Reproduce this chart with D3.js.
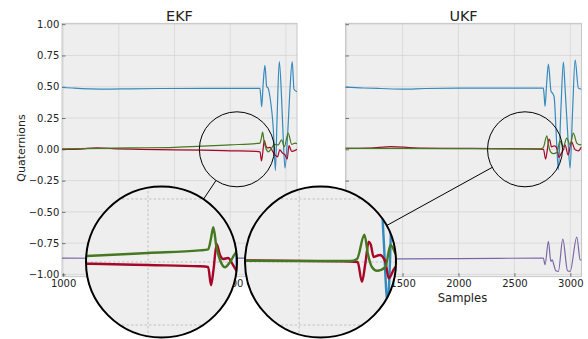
<!DOCTYPE html>
<html>
<head>
<meta charset="utf-8">
<script src="https://cdn.jsdelivr.net/npm/d3@7"></script>
<style>
  body { margin: 0; background: #fff; }
  svg text { font-family: "DejaVu Sans", sans-serif; fill: #222; }
</style>
</head>
<body>
<svg id="chart" width="588" height="339"></svg>
<script>
// values, [sample, quaternion value]
const sampleTicks = [1000, 1500, 2000, 2500, 3000];
const quatTicks = [-1, -0.75, -0.5, -0.25, 0, 0.25, 0.5, 0.75, 1];
const panelTitles = ["EKF", "UKF"];
const seriesColors = ["#348ABD", "#A60628", "#7A68A6", "#467821"]; // q0..q3

const ekfQ0 = [[990,0.494],[1100,0.489],[1250,0.483],[1400,0.481],[1600,0.483],[1900,0.486],[2300,0.487],[2767,0.487],[2775,0.42],[2783,0.34],[2796,0.52],[2812,0.67],[2828,0.50],[2840,0.49],[2857,0.42],[2888,0.15],[2906,-0.17],[2922,0.28],[2941,0.70],[2962,0.40],[2975,0.12],[2992,-0.15],[3015,0.10],[3035,0.45],[3057,0.70],[3073,0.48],[3100,0.46]];
const ekfQ1 = [[990,0.0],[1150,0.002],[1300,0.012],[1450,0.006],[1700,0.0],[2000,-0.004],[2250,-0.007],[2500,-0.012],[2732,-0.017],[2768,-0.02],[2781,-0.092],[2792,-0.03],[2806,0.072],[2820,0.03],[2835,0.012],[2857,0.016],[2879,-0.012],[2902,-0.045],[2925,-0.06],[2945,-0.004],[2970,-0.03],[2992,-0.045],[3012,-0.078],[3028,0.03],[3052,-0.017],[3082,-0.01],[3100,0.0]];
const ekfQ2 = [[990,-0.869],[1500,-0.871],[2000,-0.870],[2767,-0.869],[2783,-0.92],[2812,-0.735],[2828,-0.895],[2840,-0.885],[2880,-0.97],[2902,-0.975],[2941,-0.715],[2970,-0.97],[2992,-0.975],[3057,-0.70],[3073,-0.88],[3100,-0.885]];
const ekfQ3 = [[990,0.003],[1300,0.007],[1600,0.011],[2000,0.016],[2250,0.025],[2500,0.036],[2730,0.046],[2768,0.05],[2780,0.09],[2791,0.138],[2805,0.06],[2821,0.008],[2843,-0.021],[2866,0.0],[2897,0.04],[2932,0.036],[2962,0.076],[2986,0.02],[3021,0.13],[3052,0.04],[3082,0.05],[3100,0.045]];

const ukfQ0 = [[990,0.497],[1150,0.490],[1300,0.486],[1500,0.481],[1700,0.486],[2000,0.489],[2400,0.489],[2759,0.489],[2766,0.43],[2774,0.342],[2788,0.52],[2804,0.68],[2828,0.462],[2840,0.449],[2855,0.42],[2875,0.10],[2893,-0.164],[2915,0.30],[2938,0.696],[2953,0.489],[2975,0.15],[2998,-0.15],[3020,0.30],[3043,0.715],[3072,0.489],[3100,0.48]];
const ukfQ1 = [[990,0.008],[1200,0.01],[1400,0.022],[1600,0.012],[1900,0.008],[2300,0.006],[2727,0.002],[2760,0.0],[2779,-0.079],[2795,0.0],[2809,0.081],[2818,0.07],[2831,0.02],[2859,0.028],[2883,0.001],[2898,-0.065],[2920,-0.03],[2938,-0.004],[2953,0.036],[2980,-0.045],[3010,0.06],[3043,-0.004],[3072,-0.012],[3100,0.02]];
const ukfQ2 = [[990,-0.872],[1500,-0.876],[2000,-0.874],[2759,-0.869],[2774,-0.922],[2804,-0.736],[2826,-0.896],[2838,-0.883],[2855,-0.93],[2870,-0.97],[2893,-0.976],[2933,-0.717],[2975,-0.97],[2998,-0.976],[3058,-0.701],[3088,-0.883],[3100,-0.885]];
const ukfQ3 = [[990,0.008],[1500,0.008],[2000,0.006],[2500,0.004],[2727,0.004],[2757,0.012],[2790,0.108],[2806,0.03],[2824,-0.021],[2846,-0.035],[2883,-0.021],[2906,0.068],[2938,0.022],[2968,0.09],[2998,0.036],[3027,0.13],[3058,0.05],[3088,0.036],[3100,0.04]];

// zoom spots [sample, value]
const zoomCenters = [[2560, 0], [2595, 0]];

// layout
const xLim = [990, 3100];
const yLim = [-1.018, 1.007];
const plotTop = 23.3, plotBottom = 276.7;
const panels = [
  { left: 62, right: 297, series: [ekfQ0, ekfQ1, ekfQ2, ekfQ3], bigCx: 161.5, yLabels: true },
  { left: 345.5, right: 581.5, series: [ukfQ0, ukfQ1, ukfQ2, ukfQ3], bigCx: 320.5, yLabels: false },
];
const smallR = 37.5, bigR = 75.5, bigCy = 262;
const lineW = 1.2;

const svg = d3.select("#chart");
const defs = svg.append("defs");
const overlays = [];

panels.forEach((p, pi) => {
  const x = d3.scaleLinear().domain(xLim).range([p.left, p.right]);
  const y = d3.scaleLinear().domain(yLim).range([plotBottom, plotTop]);
  const g = svg.append("g");

  defs.append("clipPath").attr("id", `clip${pi}`)
    .append("rect")
    .attr("x", p.left).attr("y", plotTop)
    .attr("width", p.right - p.left).attr("height", plotBottom - plotTop);

  g.append("rect")
    .attr("x", p.left).attr("y", plotTop)
    .attr("width", p.right - p.left).attr("height", plotBottom - plotTop)
    .attr("fill", "#eeeeee");

  // grid
  g.append("g").selectAll("line").data(sampleTicks).join("line")
    .attr("x1", x).attr("x2", x).attr("y1", plotTop).attr("y2", plotBottom)
    .attr("stroke", "#d2d2d2").attr("stroke-width", 0.7);
  g.append("g").selectAll("line").data(quatTicks).join("line")
    .attr("x1", p.left).attr("x2", p.right).attr("y1", y).attr("y2", y)
    .attr("stroke", "#d2d2d2").attr("stroke-width", 0.7);

  g.append("rect")
    .attr("x", p.left).attr("y", plotTop)
    .attr("width", p.right - p.left).attr("height", plotBottom - plotTop)
    .attr("fill", "none").attr("stroke", "#bcbcbc").attr("stroke-width", 0.8);

  // axes, ticks pointing in
  const xAxis = g.append("g")
    .attr("transform", `translate(0,${plotBottom})`)
    .call(d3.axisBottom(x).tickValues(sampleTicks).tickSize(-3.5).tickPadding(3.6).tickFormat(d3.format("d")));
  const yAxis = g.append("g")
    .attr("transform", `translate(${p.left},0)`)
    .call(d3.axisLeft(y).tickValues(quatTicks).tickSize(-3.5).tickPadding(2.7)
      .tickFormat(p.yLabels ? d3.format(".2f") : () => ""));
  [xAxis, yAxis].forEach((a) => {
    a.select(".domain").remove();
    a.selectAll(".tick line").attr("stroke", "#555").attr("stroke-width", 0.8);
    a.selectAll(".tick text").attr("font-size", 10).attr("font-family", "DejaVu Sans").attr("fill", "#222");
  });

  const line = d3.line().x((d) => x(d[0])).y((d) => y(d[1])).curve(d3.curveMonotoneX);

  g.append("g").attr("clip-path", `url(#clip${pi})`)
    .selectAll("path").data(p.series).join("path")
    .attr("d", line)
    .attr("fill", "none")
    .attr("stroke", (d, i) => seriesColors[i])
    .attr("stroke-width", lineW)
    .attr("stroke-linejoin", "round");

  svg.append("text")
    .attr("x", (p.left + p.right) / 2).attr("y", 20.5)
    .attr("text-anchor", "middle").attr("font-size", 14.4)
    .text(panelTitles[pi]);

  overlays.push({ p, x, y, pi });
});

// zoom circles: outline of the spot and the connector
overlays.forEach(({ p, x, y, pi }) => {
  const [cs, cv] = zoomCenters[pi];
  const scx = x(cs), scy = y(cv);

  svg.append("circle")
    .attr("cx", scx).attr("cy", scy).attr("r", smallR)
    .attr("fill", "none").attr("stroke", "#000").attr("stroke-width", 1);

  const dx = p.bigCx - scx, dy = bigCy - scy;
  const len = Math.hypot(dx, dy);
  svg.append("line")
    .attr("x1", scx + dx / len * smallR).attr("y1", scy + dy / len * smallR)
    .attr("x2", p.bigCx - dx / len * bigR).attr("y2", bigCy - dy / len * bigR)
    .attr("stroke", "#000").attr("stroke-width", 1);
});

// magnified views
overlays.forEach(({ p, x, y, pi }) => {
  const [cs, cv] = zoomCenters[pi];
  const scx = x(cs), scy = y(cv);
  const k = bigR / smallR;
  const zx = d3.scaleLinear()
    .domain([x.invert(scx - smallR), x.invert(scx + smallR)])
    .range([p.bigCx - bigR, p.bigCx + bigR]);
  const zy = d3.scaleLinear()
    .domain([y.invert(scy + smallR), y.invert(scy - smallR)])
    .range([bigCy + bigR, bigCy - bigR]);

  defs.append("clipPath").attr("id", `zclip${pi}`)
    .append("circle").attr("cx", p.bigCx).attr("cy", bigCy).attr("r", bigR);

  const z = svg.append("g").attr("clip-path", `url(#zclip${pi})`);
  z.append("circle").attr("cx", p.bigCx).attr("cy", bigCy).attr("r", bigR).attr("fill", "#eeeeee");
  z.append("g").selectAll("line").data(sampleTicks).join("line")
    .attr("x1", zx).attr("x2", zx).attr("y1", bigCy - bigR).attr("y2", bigCy + bigR)
    .attr("stroke", "#c2c2c2").attr("stroke-width", 1).attr("stroke-dasharray", "2.5,2");
  z.append("g").selectAll("line").data(quatTicks).join("line")
    .attr("x1", p.bigCx - bigR).attr("x2", p.bigCx + bigR).attr("y1", zy).attr("y2", zy)
    .attr("stroke", "#c2c2c2").attr("stroke-width", 1).attr("stroke-dasharray", "2.5,2");

  const zline = d3.line().x((d) => zx(d[0])).y((d) => zy(d[1])).curve(d3.curveMonotoneX);
  z.append("g").selectAll("path").data(p.series).join("path")
    .attr("d", zline)
    .attr("fill", "none")
    .attr("stroke", (d, i) => seriesColors[i])
    .attr("stroke-width", lineW * k)
    .attr("stroke-linejoin", "round");

  svg.append("circle")
    .attr("cx", p.bigCx).attr("cy", bigCy).attr("r", bigR)
    .attr("fill", "none").attr("stroke", "#000").attr("stroke-width", 2);
});

// axis labels
svg.append("text")
  .attr("transform", "translate(24.5,148) rotate(-90)")
  .attr("text-anchor", "middle").attr("font-size", 11)
  .text("Quaternions");
svg.append("text")
  .attr("x", 462.5).attr("y", 301.7)
  .attr("text-anchor", "middle").attr("font-size", 11.6)
  .text("Samples");
</script>
</body>
</html>
